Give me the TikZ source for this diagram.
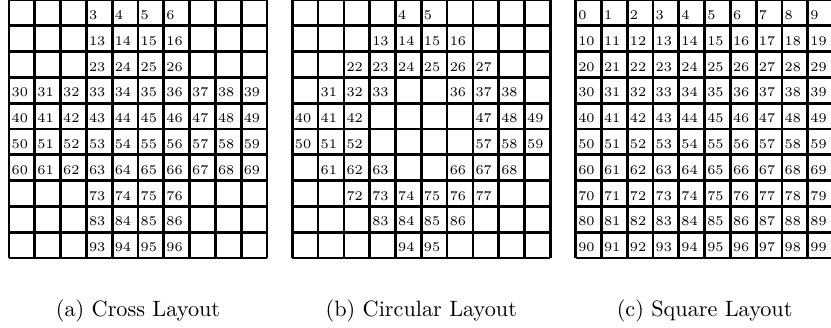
\documentclass[tikz,border=0pt]{standalone}
\begin{document}
\begin{tikzpicture}[x=0.45pt,y=-0.45pt,
  gridline/.style={line width=1.2pt},
  num/.style={anchor=base west, font=\fontsize{6}{7}\selectfont, inner sep=0pt},
  captext/.style={font=\fontsize{10}{12}\selectfont, inner sep=0pt}]
\useasboundingbox (0,0) rectangle (831,327);
\def\cs{25.8}
% grids
\foreach \gx in {9,292.3,575.6} {
  \foreach \i in {0,...,10} {
    \draw[gridline] (\gx+\i*\cs,0) -- (\gx+\i*\cs,258);
    \draw[gridline] (\gx,\i*\cs) -- (\gx+258,\i*\cs);
  }
}
% (a) cross layout
\foreach \n in {3,4,5,6,13,14,15,16,23,24,25,26,
  30,31,32,33,34,35,36,37,38,39,40,41,42,43,44,45,46,47,48,49,
  50,51,52,53,54,55,56,57,58,59,60,61,62,63,64,65,66,67,68,69,
  73,74,75,76,83,84,85,86,93,94,95,96} {
  \pgfmathtruncatemacro\r{\n/10}
  \pgfmathtruncatemacro\c{\n-10*\r}
  \node[num] (a\n) at (9+\c*\cs+2.2,\r*\cs+19.5) {\n};
}
% (b) circular layout
\foreach \n in {4,5,13,14,15,16,22,23,24,25,26,27,31,32,33,36,37,38,40,41,42,47,48,49,50,51,52,57,58,59,61,62,63,66,67,68,72,73,74,75,76,77,83,84,85,86,94,95} {
  \pgfmathtruncatemacro\r{\n/10}
  \pgfmathtruncatemacro\c{\n-10*\r}
  \node[num] (b\n) at (292.3+\c*\cs+2.2,\r*\cs+19.5) {\n};
}
% (c) square layout
\foreach \n in {0,...,99} {
  \pgfmathtruncatemacro\r{\n/10}
  \pgfmathtruncatemacro\c{\n-10*\r}
  \node[num] (c\n) at (575.6+\c*\cs+2.2,\r*\cs+19.5) {\n};
}
% captions
\node[captext] (capa) at (138,311) {(a) Cross Layout};
\node[captext] (capb) at (421.3,311) {(b) Circular Layout};
\node[captext] (capc) at (704.6,311) {(c) Square Layout};
\end{tikzpicture}
\end{document}
